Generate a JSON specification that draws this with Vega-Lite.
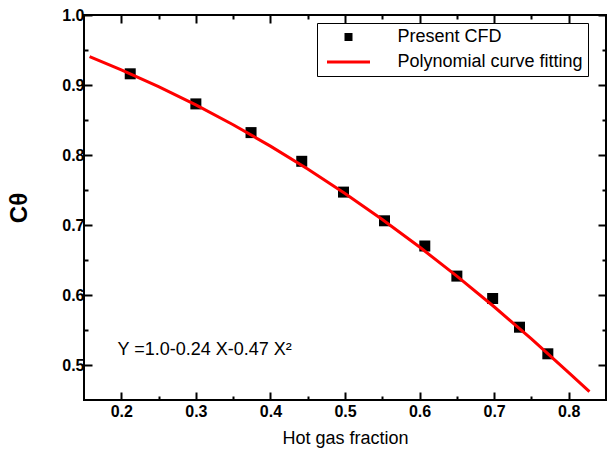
{
  "$schema": "https://vega.github.io/schema/vega-lite/v6.json",
  "width": 522,
  "height": 385,
  "autosize": {"type": "none"},
  "padding": {"left": 84, "top": 15, "right": 5, "bottom": 63},
  "background": "white",
  "config": {
    "view": {"stroke": "black", "strokeWidth": 2},
    "font": "Liberation Sans",
    "axis": {
      "grid": false,
      "domain": false,
      "tickColor": "black",
      "tickWidth": 2,
      "tickSize": -8,
      "labelFont": "Liberation Sans",
      "labelFontWeight": "bold",
      "labelFontSize": 16,
      "labelColor": "black",
      "titleFont": "Liberation Sans",
      "titleColor": "black"
    }
  },
  "datasets": {
    "cfd": [
      {"x": 0.212, "y": 0.916, "series": "Present CFD"},
      {"x": 0.300, "y": 0.873, "series": "Present CFD"},
      {"x": 0.374, "y": 0.832, "series": "Present CFD"},
      {"x": 0.442, "y": 0.791, "series": "Present CFD"},
      {"x": 0.498, "y": 0.747, "series": "Present CFD"},
      {"x": 0.553, "y": 0.706, "series": "Present CFD"},
      {"x": 0.607, "y": 0.670, "series": "Present CFD"},
      {"x": 0.650, "y": 0.627, "series": "Present CFD"},
      {"x": 0.698, "y": 0.595, "series": "Present CFD"},
      {"x": 0.734, "y": 0.554, "series": "Present CFD"},
      {"x": 0.772, "y": 0.516, "series": "Present CFD"}
    ],
    "fit": [
      {"x": 0.1575, "y": 0.9404},
      {"x": 0.20, "y": 0.9217},
      {"x": 0.25, "y": 0.8978},
      {"x": 0.30, "y": 0.8716},
      {"x": 0.35, "y": 0.8433},
      {"x": 0.40, "y": 0.8127},
      {"x": 0.45, "y": 0.7800},
      {"x": 0.50, "y": 0.7450},
      {"x": 0.55, "y": 0.7079},
      {"x": 0.60, "y": 0.6685},
      {"x": 0.65, "y": 0.6270},
      {"x": 0.70, "y": 0.5832},
      {"x": 0.75, "y": 0.5373},
      {"x": 0.80, "y": 0.4891},
      {"x": 0.8278, "y": 0.4619}
    ],
    "note": [
      {"x": 0.195, "y": 0.514, "label": "Y =1.0-0.24 X-0.47 X²"}
    ]
  },
  "layer": [
    {
      "data": {"name": "cfd"},
      "mark": {"type": "point", "filled": true, "size": 121, "opacity": 1},
      "encoding": {
        "x": {
          "field": "x", "type": "quantitative",
          "scale": {"domain": [0.15, 0.85], "nice": false, "zero": false},
          "axis": {
            "orient": "bottom",
            "title": "Hot gas fraction",
            "titleFontSize": 18,
            "titleFontWeight": "normal",
            "titlePadding": 10,
            "values": [0.2, 0.25, 0.3, 0.35, 0.4, 0.45, 0.5, 0.55, 0.6, 0.65, 0.7, 0.75, 0.8],
            "tickDash": {"condition": {"test": "round(datum.value*100) % 10 == 0", "value": []}, "value": [4, 20]},
            "labelExpr": "round(datum.value*100) % 10 == 0 ? format(datum.value, '.1f') : ''",
            "labelPadding": 11
          }
        },
        "y": {
          "field": "y", "type": "quantitative",
          "scale": {"domain": [0.45, 1.0], "nice": false, "zero": false},
          "axis": {
            "orient": "left",
            "title": "Cθ",
            "titleFontSize": 24,
            "titleFontWeight": "bold",
            "titlePadding": 30,
            "values": [0.5, 0.55, 0.6, 0.65, 0.7, 0.75, 0.8, 0.85, 0.9, 0.95, 1.0],
            "tickDash": {"condition": {"test": "round(datum.value*100) % 10 == 0", "value": []}, "value": [4, 20]},
            "labelExpr": "round(datum.value*100) % 10 == 0 ? format(datum.value, '.1f') : ''",
            "labelPadding": 8
          }
        },
        "color": {
          "field": "series", "type": "nominal",
          "scale": {"domain": ["Present CFD", "Polynomial curve fitting"], "range": ["black", "red"]},
          "legend": {
            "title": null,
            "orient": "none",
            "legendX": 233,
            "legendY": 8,
            "strokeColor": "black",
            "padding": 5,
            "labelFont": "Liberation Sans",
            "labelFontSize": 18,
            "labelColor": "black",
            "labelOffset": 40,
            "labelLimit": 400,
            "symbolSize": 64,
            "symbolOffset": 17.5,
            "symbolStrokeWidth": 0,
            "rowPadding": 7
          }
        },
        "shape": {
          "field": "series", "type": "nominal",
          "scale": {"domain": ["Present CFD", "Polynomial curve fitting"], "range": ["square", "M-5.375,-0.375L5.375,-0.375L5.375,0.375L-5.375,0.375Z"]},
          "legend": {
            "title": null,
            "orient": "none",
            "legendX": 233,
            "legendY": 8,
            "strokeColor": "black",
            "padding": 5,
            "labelFont": "Liberation Sans",
            "labelFontSize": 18,
            "labelColor": "black",
            "labelOffset": 40,
            "labelLimit": 400,
            "symbolSize": 64,
            "symbolOffset": 17.5,
            "symbolStrokeWidth": 0,
            "rowPadding": 7
          }
        }
      }
    },
    {
      "data": {"name": "fit"},
      "mark": {"type": "line", "strokeWidth": 3, "color": "red"},
      "encoding": {
        "x": {
          "field": "x", "type": "quantitative",
          "scale": {"domain": [0.15, 0.85], "nice": false, "zero": false},
          "axis": {
            "orient": "top",
            "title": null,
            "labels": false,
            "values": [0.2, 0.25, 0.3, 0.35, 0.4, 0.45, 0.5, 0.55, 0.6, 0.65, 0.7, 0.75, 0.8],
            "tickDash": {"condition": {"test": "round(datum.value*100) % 10 == 0", "value": []}, "value": [4, 20]}
          }
        },
        "y": {
          "field": "y", "type": "quantitative",
          "scale": {"domain": [0.45, 1.0], "nice": false, "zero": false},
          "axis": {
            "orient": "right",
            "title": null,
            "labels": false,
            "values": [0.5, 0.55, 0.6, 0.65, 0.7, 0.75, 0.8, 0.85, 0.9, 0.95, 1.0],
            "tickDash": {"condition": {"test": "round(datum.value*100) % 10 == 0", "value": []}, "value": [4, 20]}
          }
        }
      }
    },
    {
      "data": {"name": "note"},
      "mark": {"type": "text", "align": "left", "baseline": "alphabetic", "font": "Liberation Sans", "fontSize": 18, "color": "black"},
      "encoding": {
        "x": {"field": "x", "type": "quantitative", "scale": {"domain": [0.15, 0.85]}, "axis": null},
        "y": {"field": "y", "type": "quantitative", "scale": {"domain": [0.45, 1.0]}, "axis": null},
        "text": {"field": "label"}
      }
    }
  ],
  "resolve": {"axis": {"x": "independent", "y": "independent"}}
}
